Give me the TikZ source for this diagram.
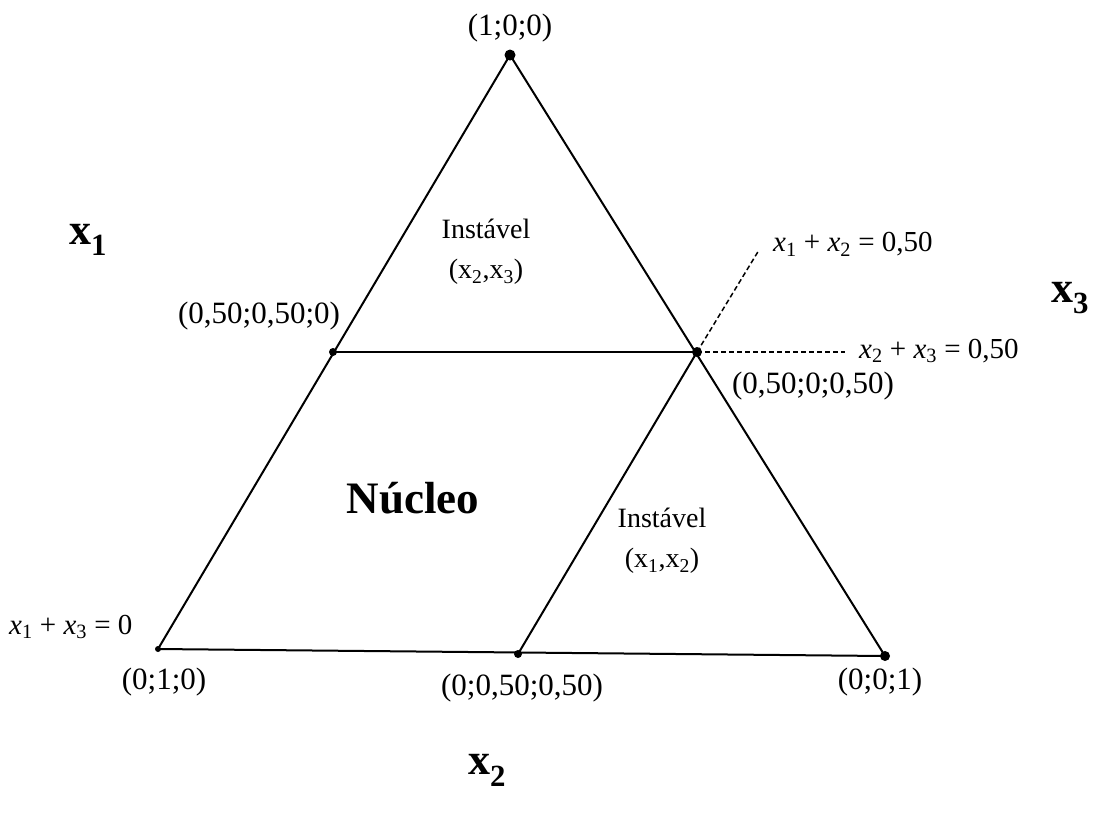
\documentclass[tikz,border=0pt]{standalone}
\usepackage{fontspec}
\setmainfont{Liberation Serif}
\newcommand{\vx}[1]{\textit{x}\textsubscript{#1}}
\begin{document}
\begin{tikzpicture}[x=1pt,y=-1pt,
  edge/.style={line width=2pt},
  dashedge/.style={line width=1.5pt,dashed,dash pattern=on 5pt off 3pt},
  dot/.style={circle,fill=black,inner sep=0pt,minimum size=#1},
  lbl/.style={font=\fontsize{31}{34}\selectfont,inner sep=1pt},
  eq/.style={font=\fontsize{29}{32}\selectfont,inner sep=1pt},
  reg/.style={font=\fontsize{28}{40}\selectfont,inner sep=1pt,align=center},
  axis/.style={font=\fontsize{44}{46}\selectfont\bfseries,inner sep=1pt}]
\useasboundingbox (0,0) rectangle (1110,815);
\node[dot=11pt] (A) at (510,55) {};
\node[dot=6pt] (B) at (158,649) {};
\node[dot=10pt] (C) at (885,656) {};
\node[dot=8pt] (M1) at (333,352) {};
\node[dot=10pt] (M2) at (697,352) {};
\node[dot=8pt] (M3) at (518,654) {};
\coordinate (D1) at (845,352);
\coordinate (D2) at (759,250);
\draw[edge] (A.center) -- (B.center) -- (C.center) -- cycle;
\draw[edge] (M1.center) -- (M2.center);
\draw[edge] (M3.center) -- (M2.center);
\draw[dashedge] (M2.center) -- (D1);
\draw[dashedge] (M2.center) -- (D2);
\node[lbl] (lA) at (510,28) {(1;0;0)};
\node[lbl] (lM1) at (259,316) {(0,50;0,50;0)};
\node[lbl] (lM2) at (813,386) {(0,50;0;0,50)};
\node[lbl] (lB) at (164,682) {(0;1;0)};
\node[lbl] (lM3) at (522,688) {(0;0,50;0,50)};
\node[lbl] (lC) at (880,682) {(0;0;1)};
\node[eq,anchor=west] (e1) at (772,244) {\vx{1}\ + \vx{2}\ = 0,50};
\node[eq,anchor=west] (e2) at (858,351) {\vx{2}\ + \vx{3}\ = 0,50};
\node[eq,anchor=west] (e3) at (8,627) {\vx{1}\ + \vx{3}\ = 0};
\node[reg] (r1) at (486,252) {Instável\\(x\textsubscript{2},x\textsubscript{3})};
\node[reg] (r2) at (662,541) {Instável\\(x\textsubscript{1},x\textsubscript{2})};
\node[font=\fontsize{45}{48}\selectfont\bfseries] (nuc) at (413,498) {Núcleo};
\node[axis] (x1) at (88,240) {x\textsubscript{1}};
\node[axis] (x3) at (1070,298) {x\textsubscript{3}};
\node[axis] (x2) at (487,770) {x\textsubscript{2}};
\end{tikzpicture}
\end{document}
